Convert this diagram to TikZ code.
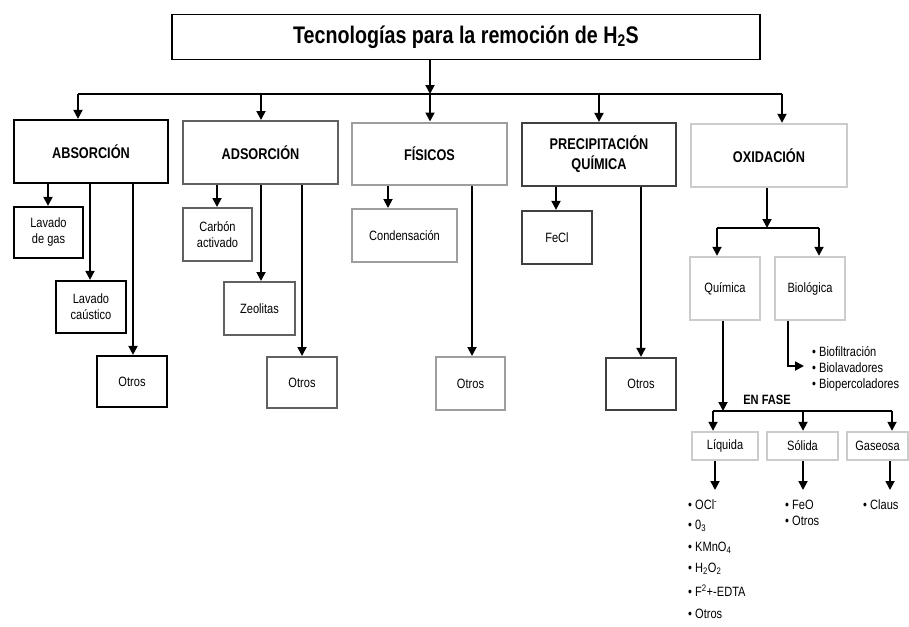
\documentclass[tikz,border=0pt]{standalone}
\usepackage{fontspec}
\setmainfont[FakeStretch=0.82]{Liberation Sans}
\usetikzlibrary{arrows.meta}
\begin{document}
\begin{tikzpicture}[x=1pt,y=-1pt,
  bx/.style={draw, rectangle, inner sep=0pt, align=center, font=\fontsize{13.5}{16}\selectfont},
  c0/.style={draw=black, line width=2.2pt},
  c1/.style={draw=black!62, line width=2pt},
  c2/.style={draw=black!38, line width=2pt},
  c3/.style={draw=black!75, line width=2.2pt},
  c4/.style={draw=black!20, line width=2.4pt},
  hd/.style={font=\bfseries\fontsize{15.5}{20}\selectfont},
  arr/.style={line width=1.8pt, -{Triangle[length=9pt,width=9pt]}},
  ln/.style={line width=1.8pt},
  lst/.style={anchor=west, inner sep=0pt, align=left, font=\fontsize{13.5}{16}\selectfont},
]
\useasboundingbox (0,0) rectangle (909,626);

% title
\node[bx, draw=black, line width=1.5pt, minimum width=588pt, minimum height=45pt,
      font=\bfseries\fontsize{24}{28}\selectfont] (title) at (466,37)
      {Tecnologías para la remoción de H\textsubscript{2}S};

% level 1
\node[bx,c0,hd,minimum width=154pt,minimum height=63pt] (abs) at (91,151.5) {ABSORCIÓN};
\node[bx,c1,hd,minimum width=155pt,minimum height=63pt] (ads) at (260.5,152.5) {ADSORCIÓN};
\node[bx,c2,hd,minimum width=155pt,minimum height=62pt] (fis) at (429.5,153.5) {FÍSICOS};
\node[bx,c3,hd,minimum width=154pt,minimum height=63pt] (pre) at (599,154.5) {PRECIPITACIÓN\\QUÍMICA};
\node[bx,c4,hd,minimum width=156pt,minimum height=63pt] (oxi) at (769,155.5) {OXIDACIÓN};

\coordinate (hc) at (430,94);
\coordinate (h1) at (78,94);
\coordinate (h2) at (261,94);
\coordinate (h4) at (599,94);
\coordinate (h5) at (782,94);
\draw[ln] (h1) -- (h5);
\draw[arr] (title.south -| hc) -- (hc);
\draw[arr] (h1) -- (h1 |- abs.north);
\draw[arr] (h2) -- (h2 |- ads.north);
\draw[arr] (hc) -- (hc |- fis.north);
\draw[arr] (h4) -- (h4 |- pre.north);
\draw[arr] (h5) -- (h5 |- oxi.north);

% absorcion
\node[bx,c0,minimum width=69pt,minimum height=51pt] (lg) at (48.5,232.5) {Lavado\\de gas};
\node[bx,c0,minimum width=70pt,minimum height=52pt] (lc) at (91,307) {Lavado\\caústico};
\node[bx,c0,minimum width=70pt,minimum height=51pt] (ao) at (132,381.5) {Otros};
\draw[arr] (48,0 |- abs.south) -- (48,0 |- lg.north);
\draw[arr] (90,0 |- abs.south) -- (90,0 |- lc.north);
\draw[arr] (133,0 |- abs.south) -- (133,0 |- ao.north);

% adsorcion
\node[bx,c1,minimum width=69pt,minimum height=53pt] (ca) at (217.5,234.5) {Carbón\\activado};
\node[bx,c1,minimum width=71pt,minimum height=53pt] (ze) at (259.5,308.5) {Zeolitas};
\node[bx,c1,minimum width=70pt,minimum height=51pt] (do) at (302,382.5) {Otros};
\draw[arr] (217,0 |- ads.south) -- (217,0 |- ca.north);
\draw[arr] (261,0 |- ads.south) -- (261,0 |- ze.north);
\draw[arr] (302,0 |- ads.south) -- (302,0 |- do.north);

% fisicos
\node[bx,c2,minimum width=105pt,minimum height=53pt] (co) at (404.5,235.5) {Condensación};
\node[bx,c2,minimum width=69pt,minimum height=53pt] (fo) at (470.5,383.5) {Otros};
\draw[arr] (388,0 |- fis.south) -- (388,0 |- co.north);
\draw[arr] (472,0 |- fis.south) -- (472,0 |- fo.north);

% precipitacion
\node[bx,c3,minimum width=70pt,minimum height=53pt] (fe) at (557,237.5) {FeCl};
\node[bx,c3,minimum width=70pt,minimum height=52pt] (po) at (641,384) {Otros};
\draw[arr] (556,0 |- pre.south) -- (556,0 |- fe.north);
\draw[arr] (641,0 |- pre.south) -- (641,0 |- po.north);

% oxidacion
\node[bx,c4,minimum width=70pt,minimum height=63pt] (qu) at (725,288.5) {Química};
\node[bx,c4,minimum width=70pt,minimum height=63pt] (bi) at (810,288.5) {Biológica};
\coordinate (ox) at (767,228);
\coordinate (oxl) at (717,228);
\coordinate (oxr) at (819,228);
\draw[arr] (oxi.south -| ox) -- (ox);
\draw[ln] (oxl) -- (oxr);
\draw[arr] (oxl) -- (oxl |- qu.north);
\draw[arr] (oxr) -- (oxr |- bi.north);

\coordinate (bb) at (788,366);
\coordinate (be) at (804,366);
\draw[arr] (bb |- bi.south) -- (bb) -- (be);
\node[lst] (bio) at (812,369) {• Biofiltración\\• Biolavadores\\• Biopercoladores};

% en fase
\coordinate (qf) at (723,411);
\coordinate (fl) at (713,411);
\coordinate (fm) at (803,411);
\coordinate (fr) at (892,411);
\draw[arr] (qu.south -| qf) -- (qf);
\draw[ln] (fl) -- (fr);
\node[inner sep=0pt, font=\bfseries\fontsize{13.5}{16}\selectfont] (enf) at (767,400) {EN FASE};

\node[bx,c4,minimum width=66pt,minimum height=28pt] (li) at (725,446) {Líquida};
\node[bx,c4,minimum width=71pt,minimum height=28pt] (so) at (802.5,446) {Sólida};
\node[bx,c4,minimum width=61pt,minimum height=28pt] (ga) at (877.5,446) {Gaseosa};
\draw[arr] (fl) -- (fl |- li.north);
\draw[arr] (fm) -- (fm |- so.north);
\draw[arr] (fr) -- (fr |- ga.north);

\coordinate (la) at (715,490);
\coordinate (sa) at (803,490);
\coordinate (gaa) at (890,490);
\draw[arr] (li.south -| la) -- (la);
\draw[arr] (so.south -| sa) -- (sa);
\draw[arr] (ga.south -| gaa) -- (gaa);

% lists
\node[lst] (l1) at (688,505) {• OCl\textsuperscript{-}};
\node[lst] (l2) at (688,526) {• 0\textsubscript{3}};
\node[lst] (l3) at (688,548) {• KMnO\textsubscript{4}};
\node[lst] (l4) at (688,569) {• H\textsubscript{2}O\textsubscript{2}};
\node[lst] (l5) at (688,591) {• F\textsuperscript{2}+-EDTA};
\node[lst] (l6) at (688,614) {• Otros};
\node[lst] (s1) at (785,505) {• FeO};
\node[lst] (s2) at (785,521) {• Otros};
\node[lst] (g1) at (863,505) {• Claus};
\end{tikzpicture}
\end{document}
